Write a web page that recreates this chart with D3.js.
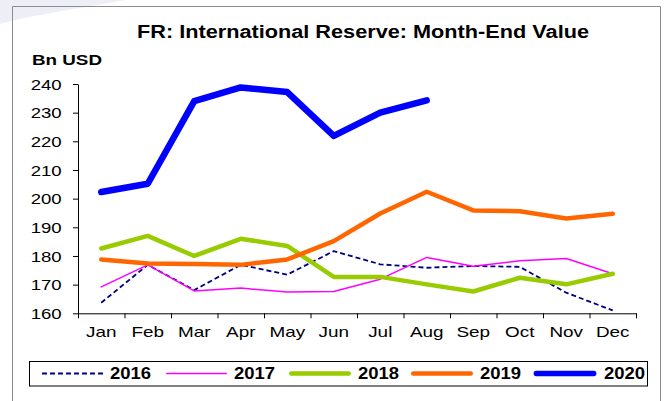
<!DOCTYPE html>
<html>
<head>
<meta charset="utf-8">
<script src="https://cdn.jsdelivr.net/npm/d3@7"></script>
<style>
  body { margin: 0; background: #fff; }
  svg { display: block; }
  text { font-family: Arial, "Liberation Sans", sans-serif; fill: #000; }
</style>
</head>
<body>
<svg id="chart" width="667" height="401"></svg>
<script>
// Month-end value of France's international reserve, Bn USD
const months = ["Jan", "Feb", "Mar", "Apr", "May", "Jun", "Jul", "Aug", "Sep", "Oct", "Nov", "Dec"];
const years = ["2016", "2017", "2018", "2019", "2020"];
const v2016 = [163.7, 176.9, 168.1, 176.9, 173.5, 181.7, 177.1, 175.9, 176.5, 176.2, 167.2, 161.0];
const v2017 = [169.2, 176.9, 167.8, 168.8, 167.4, 167.6, 171.9, 179.5, 176.4, 178.3, 179.1, 173.8];
const v2018 = [182.6, 187.0, 180.0, 186.0, 183.5, 172.7, 172.7, 170.1, 167.6, 172.4, 170.1, 173.8];
const v2019 = [178.8, 177.4, 177.2, 176.9, 178.8, 185.2, 194.8, 202.4, 195.9, 195.6, 193.1, 194.7];
const v2020 = [202.3, 205.2, 234.0, 238.8, 237.2, 221.9, 230.0, 234.3];
const yTicks = [160, 170, 180, 190, 200, 210, 220, 230, 240];

const seriesValues = [v2016, v2017, v2018, v2019, v2020];
const styles = [
  { color: "#000080", width: 1.8, dash: "5,3" },
  { color: "#ff00ff", width: 1.5, dash: null },
  { color: "#99cc00", width: 4.5, dash: null },
  { color: "#ff6600", width: 4.5, dash: null },
  { color: "#0000ff", width: 6.5, dash: null }
];

const svg = d3.select("#chart");

// faint decoration in the top-left corner
svg.append("path")
  .attr("d", "M0,0 H125 C90,7 40,13 0,24 Z")
  .attr("fill", "#eeeef6");

// outer frame
svg.append("path")
  .attr("d", "M12.5,401 V6.5 H660.5 V401")
  .attr("fill", "none")
  .attr("stroke", "#8c8c8c")
  .attr("stroke-width", 1);

const plotLeft = 78, plotRight = 636, plotTop = 84, plotBottom = 313.3;
const x = d3.scaleBand().domain(months).range([plotLeft, plotRight]);
const xEdge = d3.scaleLinear().domain([0, months.length]).range([plotLeft, plotRight]);
const y = d3.scaleLinear().domain([160, 240]).range([plotBottom, plotTop]);

// title and unit
svg.append("text")
  .attr("x", 137).attr("y", 38)
  .attr("font-size", 18).attr("font-weight", "bold")
  .attr("textLength", 452).attr("lengthAdjust", "spacingAndGlyphs")
  .text("FR: International Reserve: Month-End Value");
svg.append("text")
  .attr("x", 32).attr("y", 65)
  .attr("font-size", 14).attr("font-weight", "bold")
  .attr("textLength", 70).attr("lengthAdjust", "spacingAndGlyphs")
  .text("Bn USD");

// y axis
const yAxis = svg.append("g")
  .attr("transform", `translate(${plotLeft},0)`)
  .call(d3.axisLeft(y).tickValues(yTicks).tickSize(5).tickSizeOuter(0).tickFormat(d3.format("d")));
yAxis.select(".domain").attr("stroke", "#000");
yAxis.selectAll(".tick line").attr("stroke", "#000");
yAxis.selectAll(".tick text")
  .attr("x", -16.3).attr("dy", "0.36em")
  .attr("font-size", 14).attr("font-family", "Arial, 'Liberation Sans', sans-serif")
  .attr("textLength", 31).attr("lengthAdjust", "spacingAndGlyphs")
  .attr("fill", "#000");

// x axis: ticks between categories, labels at the centres
const xAxis = svg.append("g")
  .attr("transform", `translate(0,${plotBottom})`)
  .call(d3.axisBottom(xEdge).ticks(months.length).tickSize(5).tickSizeOuter(0).tickFormat(""));
xAxis.select(".domain").attr("stroke", "#000");
xAxis.selectAll(".tick line").attr("stroke", "#000");

svg.append("g").selectAll("text")
  .data(months)
  .join("text")
  .attr("transform", d => `translate(${x(d) + x.bandwidth() / 2},337) scale(1.35,1)`)
  .attr("text-anchor", "middle")
  .attr("font-size", 14)
  .text(d => d);

// series lines
const line = d3.line()
  .x((d, i) => x(months[i]) + x.bandwidth() / 2)
  .y(d => y(d));

svg.append("g").selectAll("path")
  .data(seriesValues)
  .join("path")
  .attr("d", d => line(d))
  .attr("fill", "none")
  .attr("stroke", (d, i) => styles[i].color)
  .attr("stroke-width", (d, i) => styles[i].width)
  .attr("stroke-dasharray", (d, i) => styles[i].dash)
  .attr("stroke-linejoin", "round")
  .attr("stroke-linecap", (d, i) => styles[i].dash ? "butt" : "round");

// legend
const legend = svg.append("g");
legend.append("rect")
  .attr("x", 29.5).attr("y", 361.5)
  .attr("width", 618).attr("height", 24.5)
  .attr("fill", "#fff").attr("stroke", "#000").attr("stroke-width", 1);

const legendLineX = [42, 166, 289, 411, 533];
const legendLineW = [61, 61, 62, 62, 64];
const items = legend.selectAll("g.item")
  .data(years)
  .join("g")
  .attr("class", "item");
items.append("line")
  .attr("x1", (d, i) => legendLineX[i] + (styles[i].dash ? 0 : styles[i].width / 2))
  .attr("x2", (d, i) => legendLineX[i] + legendLineW[i] - (styles[i].dash ? 0 : styles[i].width / 2))
  .attr("y1", 373.5).attr("y2", 373.5)
  .attr("stroke", (d, i) => styles[i].color)
  .attr("stroke-width", (d, i) => Math.min(styles[i].width, 5.3))
  .attr("stroke-dasharray", (d, i) => styles[i].dash)
  .attr("stroke-linecap", (d, i) => styles[i].dash ? "butt" : "round");
items.append("text")
  .attr("x", (d, i) => legendLineX[i] + legendLineW[i] + 7)
  .attr("y", 379)
  .attr("font-size", 16).attr("font-weight", "bold")
  .attr("textLength", 41).attr("lengthAdjust", "spacingAndGlyphs")
  .text(d => d);
</script>
</body>
</html>
